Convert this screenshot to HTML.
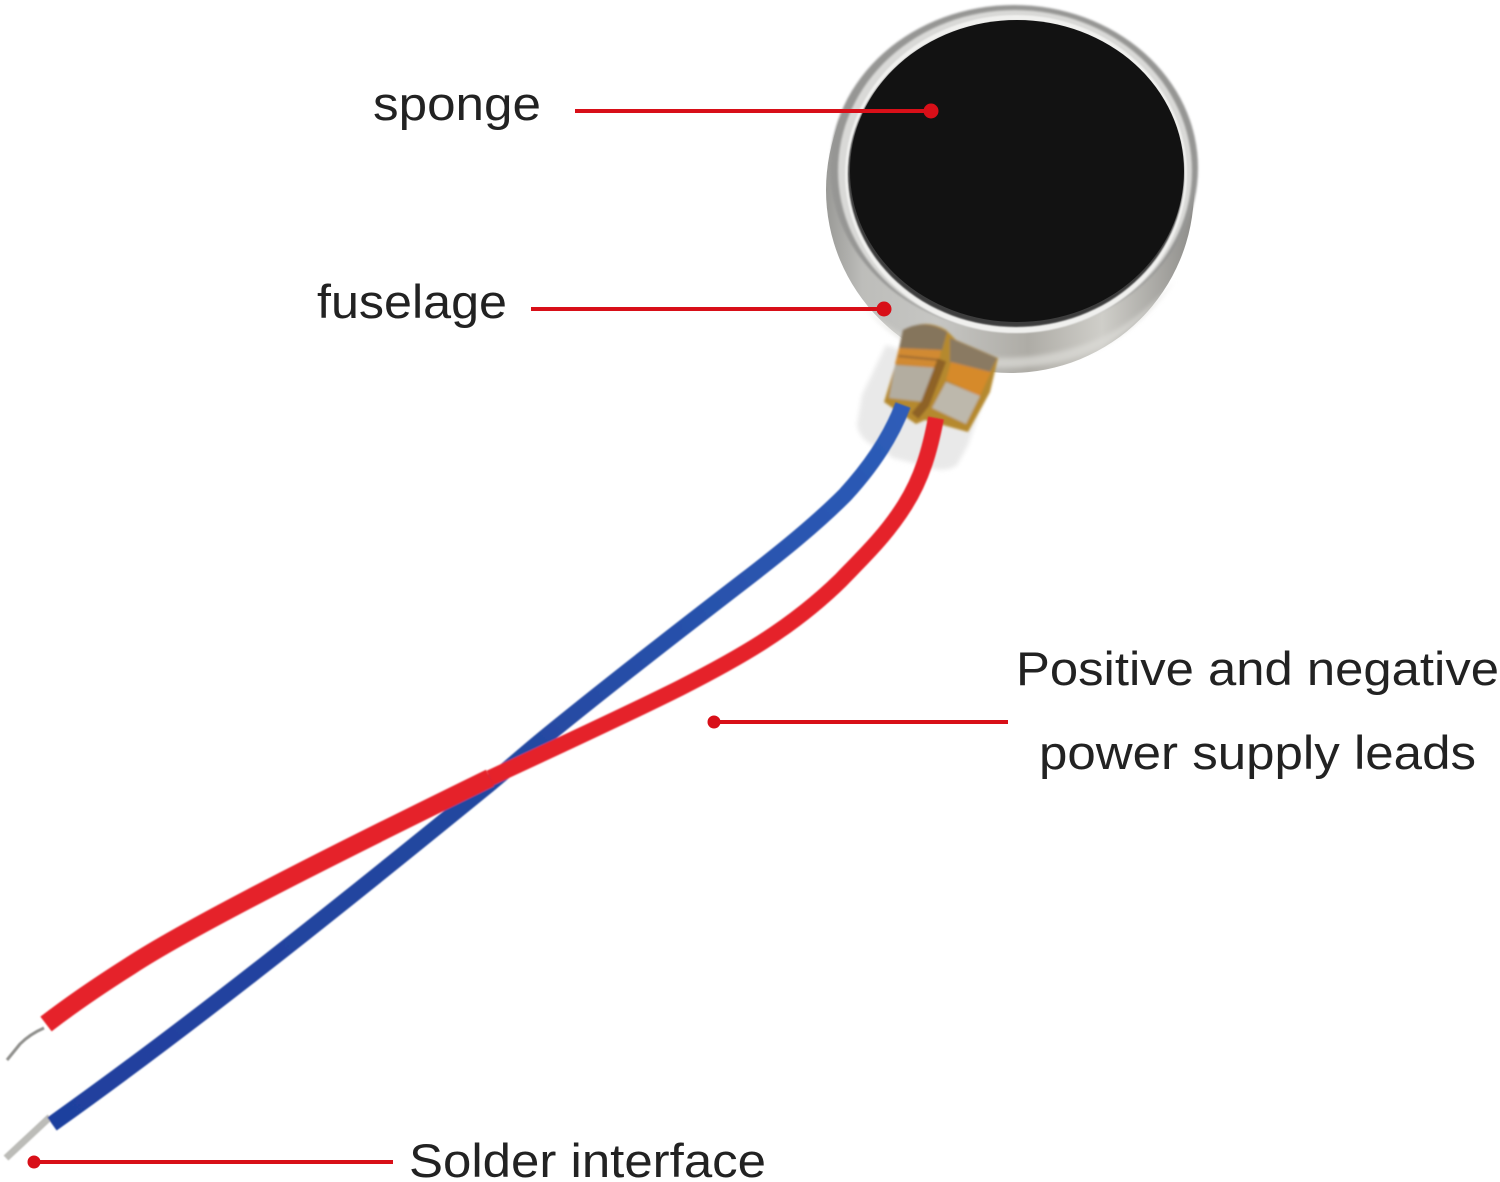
<!DOCTYPE html>
<html><head><meta charset="utf-8"><style>
html,body{margin:0;padding:0;background:#fff}
svg{display:block}
text{font-family:"Liberation Sans",sans-serif;font-size:47px;fill:#222}
</style></head><body>
<svg width="1500" height="1182" viewBox="0 0 1500 1182" xmlns="http://www.w3.org/2000/svg">
<defs>
<linearGradient id="m" x1="0" y1="0" x2="1" y2="0">
<stop offset="0" stop-color="#9a9a97"/><stop offset=".1" stop-color="#bdbdba"/><stop offset=".3" stop-color="#c6c6c3"/><stop offset=".55" stop-color="#aeaca6"/><stop offset=".75" stop-color="#cfcec9"/><stop offset=".92" stop-color="#a4a39f"/><stop offset="1" stop-color="#8e8d8a"/>
</linearGradient>
<linearGradient id="bl" gradientUnits="userSpaceOnUse" x1="52" y1="1124" x2="903" y2="405">
<stop offset="0" stop-color="#1f3f9e"/><stop offset=".5" stop-color="#23479f"/><stop offset="1" stop-color="#2d5cb8"/>
</linearGradient>
<filter id="s"><feGaussianBlur stdDeviation="1"/></filter>
<filter id="s2"><feGaussianBlur stdDeviation="2.5"/></filter>
<filter id="w"><feGaussianBlur stdDeviation=".8"/></filter>
<filter id="t"><feGaussianBlur stdDeviation="1.3"/></filter>
</defs>
<!-- translucent film -->
<path d="M886 345 L862 395 L857 425 Q860 442 880 448 L893 458 L925 466 Q945 474 957 465 L968 445 L990 380Z" fill="#e9e9e9" filter="url(#s2)"/>
<!-- motor body -->
<ellipse cx="1010" cy="190" rx="184" ry="183" fill="url(#m)"/>
<path d="M860 300 Q900 352 1000 358 Q1110 358 1175 280 Q1130 345 1060 362 Q980 378 920 350 Q880 330 860 300Z" fill="#dcdbd7" opacity=".7" filter="url(#s2)"/>
<!-- top rim -->
<ellipse cx="1014" cy="168" rx="184" ry="163" fill="#969694" filter="url(#s)"/>
<ellipse cx="1015" cy="171" rx="177" ry="161" fill="#d9d9d7" filter="url(#s)"/>
<ellipse cx="1016" cy="174" rx="171" ry="159" fill="#f0f0ee" filter="url(#w)"/>
<ellipse cx="1016" cy="174" rx="168" ry="153" fill="#3c3c3c" filter="url(#w)"/>
<!-- foam -->
<ellipse cx="1017" cy="171" rx="167" ry="151" fill="#121212"/>
<!-- tabs -->
<g filter="url(#t)">
<path d="M884 402 L906 330 Q925 318 946 330 L956 340 L998 358 L990 392 L968 432 L925 420 L916 424Z" fill="#b5892f"/>
<path d="M903 330 Q925 318 947 332 L942 350 L899 348Z" fill="#85745c"/>
<path d="M899 348 L941 350 L938 368 L895 364Z" fill="#d18a30"/>
<path d="M899 355 L940 359 L939 361 L898 357Z" fill="#9a6a30"/>
<path d="M895 365 L938 368 L925 402 L889 398Z" fill="#b3ada0"/>
<path d="M950 338 L997 358 L990 372 L950 362Z" fill="#8a7a62"/>
<path d="M951 362 L991 372 L980 396 L946 380Z" fill="#d68a2c"/>
<path d="M946 382 L980 396 L966 424 L932 408Z" fill="#bdb8ac"/>
<path d="M942 360 L925 404 L915 416" fill="none" stroke="#8e6226" stroke-width="9"/>
</g>
<!-- wires -->
<g fill="none" stroke-linejoin="round" filter="url(#w)">
<path d="M44 1028 Q30 1034 20 1044 L7 1060" stroke="#8f8f8c" stroke-width="3"/>
<path d="M6 1158 L50 1117" stroke="#bcbcb8" stroke-width="7"/>
<path d="M903 405 C890 440 868 470 845 495 C815 525 780 553 745 580 C680 630 600 692 538 743 C520 758 503 773 486 787 C340 906 190 1026 52 1124" stroke="url(#bl)" stroke-width="16"/>
<path d="M936 418 C930 450 922 478 905 505 C885 537 860 560 841 580 C790 630 735 660 680 688 C620 718 550 750 490 778" stroke="#e5242b" stroke-width="16"/>
<path d="M490 778 C400 822 200 920 130 966 C100 985 72 1004 46 1024" stroke="#e5242b" stroke-width="18.5"/>
</g>
<!-- callouts -->
<g stroke="#d80f18" stroke-width="4" fill="#d80f18">
<line x1="575" y1="111" x2="931" y2="111"/><circle cx="931" cy="111" r="5.5"/>
<line x1="531" y1="309" x2="884" y2="309"/><circle cx="884" cy="309" r="5.5"/>
<line x1="714" y1="722" x2="1008" y2="722"/><circle cx="714" cy="722" r="4.5"/>
<line x1="34" y1="1162" x2="393" y2="1162"/><circle cx="34" cy="1162" r="4.5"/>
</g>
<text x="373" y="120" textLength="168" lengthAdjust="spacingAndGlyphs">sponge</text>
<text x="317" y="318" textLength="190" lengthAdjust="spacingAndGlyphs">fuselage</text>
<text x="1016" y="685" textLength="483" lengthAdjust="spacingAndGlyphs">Positive and negative</text>
<text x="1039" y="769" textLength="437" lengthAdjust="spacingAndGlyphs">power supply leads</text>
<text x="409" y="1177" textLength="357" lengthAdjust="spacingAndGlyphs">Solder interface</text>
</svg>
</body></html>
